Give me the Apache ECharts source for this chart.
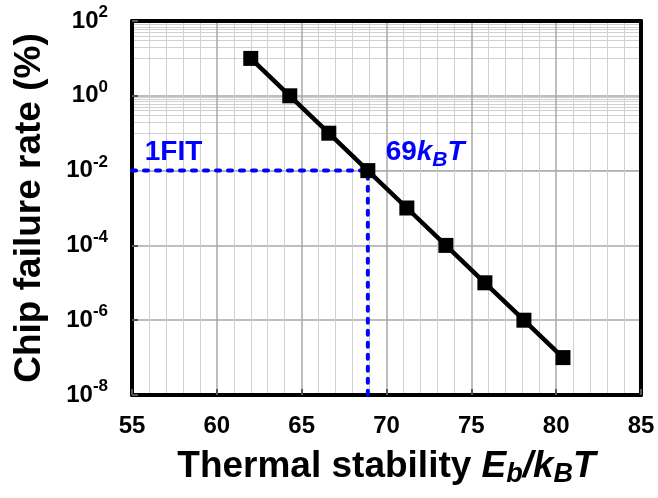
<!DOCTYPE html>
<html>
<head>
<meta charset="utf-8">
<script src="https://cdn.jsdelivr.net/npm/echarts@6/dist/echarts.min.js"></script>
<style>
  html, body { margin: 0; padding: 0; background: #fff; }
  #chart { width: 658px; height: 498px; }
</style>
</head>
<body>
<div id="chart"></div>
<script>
// measured points
const thermalStability = [62, 64.3, 66.6, 68.9, 71.2, 73.5, 75.8, 78.1, 80.4];
const failureRate = [1e1, 1e0, 1e-1, 1e-2, 1e-3, 1e-4, 1e-5, 1e-6, 1e-7];

// 1FIT guide (dashed)
const fitLineX = [55, 68.9, 68.9];
const fitLineY = [1e-2, 1e-2, 1e-8];

// annotation anchors
const noteX = [55.75, 69.95];
const noteY = [1e-2, 1e-2];
const noteText = ['{a|1FIT}', '{a|69}{i|k}{sub|B}{i|T}'];

// minor horizontal grid (excel-style, base 100 log axis)
const minorDecades = [-7, -5, -3, -1, 1];
const minorMultipliers = [1, 2, 3, 4, 5, 6, 7, 8, 9];

const FONT = "'Liberation Sans', Arial, sans-serif";
const BLUE = '#0000ff';

const minorLines = [];
minorDecades.forEach((d) => {
  minorMultipliers.forEach((m) => {
    minorLines.push({ yAxis: m * Math.pow(10, d) });
  });
});

const frameLine = { show: true, onZero: false, lineStyle: { color: '#000', width: 4 } };

const chart = echarts.init(document.getElementById('chart'));

chart.setOption({
  animation: false,
  grid: {
    left: 132,
    right: 17,
    top: 21,
    bottom: 103,
  },
  xAxis: [
    {
      type: 'value',
      min: 55,
      max: 85,
      interval: 5,
      z: 3,
      axisLine: frameLine,
      axisTick: { show: true, inside: true, length: 6, lineStyle: { color: '#555', width: 2 } },
      axisLabel: {
        margin: 19,
        fontFamily: FONT,
        fontWeight: 'bold',
        fontSize: 24,
        color: '#000',
      },
      splitLine: { show: true, lineStyle: { color: '#a8a8a8', width: 1.5 } },
      minorTick: { show: false, splitNumber: 5 },
      minorSplitLine: { show: true, lineStyle: { color: '#d0d0d0', width: 1 } },
      name: '{n|Thermal stability }{i|E}{sub|b}{i|/k}{sub|B}{i|T}',
      nameLocation: 'middle',
      nameGap: 53,
      nameTextStyle: {
        rich: {
          n: { fontFamily: FONT, fontWeight: 'bold', fontSize: 37, lineHeight: 37, color: '#000' },
          i: { fontFamily: FONT, fontWeight: 'bold', fontStyle: 'italic', fontSize: 37, lineHeight: 37, color: '#000' },
          sub: { fontFamily: FONT, fontWeight: 'bold', fontStyle: 'italic', fontSize: 27, lineHeight: 27, padding: [17, 0, 0, 0], color: '#000' },
        },
      },
    },
    {
      type: 'value',
      position: 'top',
      min: 55,
      max: 85,
      interval: 5,
      z: 3,
      axisLine: frameLine,
      axisTick: { show: false },
      axisLabel: { show: false },
      splitLine: { show: false },
    },
  ],
  yAxis: [
    {
      type: 'log',
      logBase: 10,
      min: 1e-8,
      max: 1e2,
      interval: 2,
      z: 3,
      axisLine: frameLine,
      axisTick: { show: true, inside: true, length: 6, lineStyle: { color: '#555', width: 2 } },
      axisLabel: {
        margin: 24,
        formatter: (v) => '{b|10}{s|' + Math.round(Math.log10(v)) + '}',
        rich: {
          b: { fontFamily: FONT, fontWeight: 'bold', fontSize: 24, lineHeight: 24, color: '#000' },
          s: { fontFamily: FONT, fontWeight: 'bold', fontSize: 17, lineHeight: 17, padding: [0, 0, 17, 0], color: '#000' },
        },
      },
      splitLine: { show: true, lineStyle: { color: '#a8a8a8', width: 1.5 } },
      name: 'Chip failure rate (%)',
      nameLocation: 'middle',
      nameGap: 84,
      nameTextStyle: {
        fontFamily: FONT,
        fontWeight: 'bold',
        fontSize: 37,
        color: '#000',
      },
    },
    {
      type: 'log',
      logBase: 10,
      position: 'right',
      min: 1e-8,
      max: 1e2,
      interval: 2,
      z: 3,
      axisLine: frameLine,
      axisTick: { show: false },
      axisLabel: { show: false },
      splitLine: { show: false },
    },
  ],
  series: [
    {
      name: 'grid',
      type: 'line',
      data: [],
      z: 1,
      silent: true,
      markLine: {
        silent: true,
        z: 1,
        symbol: ['none', 'none'],
        label: { show: false },
        emphasis: { disabled: true },
        lineStyle: { color: '#d0d0d0', width: 1, type: 'solid' },
        data: minorLines,
      },
    },
    {
      name: '1FIT',
      type: 'line',
      z: 4,
      data: fitLineX.map((x, i) => [x, fitLineY[i]]),
      symbol: 'none',
      lineStyle: { color: BLUE, width: 4, type: [4, 8], cap: 'round', opacity: 1 },
    },
    {
      name: 'failure',
      type: 'line',
      z: 5,
      data: thermalStability.map((x, i) => [x, failureRate[i]]),
      symbol: 'rect',
      symbolSize: 15,
      lineStyle: { color: '#000', width: 4.5 },
      itemStyle: { color: '#000' },
    },
    {
      name: 'notes',
      type: 'scatter',
      z: 6,
      symbolSize: 0,
      itemStyle: { opacity: 1 },
      data: noteX.map((x, i) => ({
        value: [x, noteY[i]],
        label: { formatter: noteText[i] },
      })),
      label: {
        show: true,
        position: 'top',
        align: 'left',
        distance: 0,
        opacity: 1,
        color: BLUE,
        textBorderWidth: 0,
        rich: {
          a: { fontFamily: FONT, fontWeight: 'bold', fontSize: 28, lineHeight: 36, color: BLUE, textBorderWidth: 0 },
          i: { fontFamily: FONT, fontWeight: 'bold', fontStyle: 'italic', fontSize: 28, lineHeight: 36, color: BLUE, textBorderWidth: 0 },
          sub: { fontFamily: FONT, fontWeight: 'bold', fontStyle: 'italic', fontSize: 21, lineHeight: 21, padding: [15, 0, 0, 0], color: BLUE, textBorderWidth: 0 },
        },
      },
    },
  ],
});
</script>
</body>
</html>
